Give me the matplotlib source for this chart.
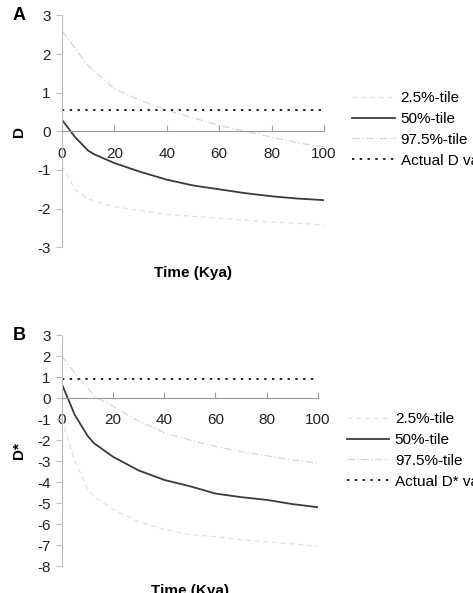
import matplotlib
matplotlib.use('Agg')
import matplotlib.pyplot as plt

plt.rcParams['font.family'] = ['Liberation Sans', 'DejaVu Sans']
plt.rcParams['axes.unicode_minus'] = False

# time points (Kya)
time = [0, 5, 10, 12.5, 20, 30, 40, 50, 60, 70, 80, 90, 100]

# panel A: Tajima's D
d_lo = [-0.9, -1.5, -1.75, -1.8, -1.95, -2.05, -2.15, -2.2, -2.25, -2.3, -2.35, -2.38, -2.42]
d_med = [0.3, -0.15, -0.5, -0.6, -0.82, -1.05, -1.25, -1.4, -1.5, -1.6, -1.68, -1.74, -1.78]
d_hi = [2.6, 2.15, 1.7, 1.55, 1.1, 0.8, 0.55, 0.35, 0.15, 0.0, -0.15, -0.3, -0.4]
d_actual = 0.55

# panel B: Fu and Li's D*
ds_lo = [-1.0, -3.0, -4.3, -4.7, -5.3, -5.9, -6.25, -6.5, -6.6, -6.75, -6.85, -6.95, -7.05]
ds_med = [0.65, -0.8, -1.8, -2.15, -2.8, -3.45, -3.9, -4.2, -4.55, -4.72, -4.85, -5.05, -5.2]
ds_hi = [2.0, 1.2, 0.5, 0.1, -0.4, -1.1, -1.65, -2.0, -2.3, -2.55, -2.75, -2.95, -3.1]
ds_actual = 0.9

series_names = ['2.5%-tile', '50%-tile', '97.5%-tile']


def draw_panel(ax, lo, med, hi, actual, ylab, yticks, actual_name, letter, leg_anchor):
    ax.plot(time, lo, color='#e0e0e0', lw=0.9, ls=(0, (4, 3)), label=series_names[0])
    ax.plot(time, med, color='#3a3a3a', lw=1.3, label=series_names[1])
    ax.plot(time, hi, color='#d6d6d6', lw=0.9, ls=(0, (6, 2, 1, 2)), label=series_names[2])
    ax.plot([time[0], time[-1]], [actual, actual], color='#222222', lw=1.4,
            ls=(0, (1.2, 2.8)), label=actual_name)

    ax.set_xlim(0, 100)
    ax.set_ylim(yticks[0], yticks[-1])
    ax.set_yticks(yticks)
    ax.set_xticks([0, 20, 40, 60, 80, 100])

    for s in ['top', 'right']:
        ax.spines[s].set_visible(False)
    ax.spines['bottom'].set_position(('data', 0))
    ax.spines['bottom'].set_color('#9a9a9a')
    ax.spines['left'].set_color('#bdbdbd')
    ax.spines['left'].set_linestyle((0, (3, 1)))

    ax.tick_params(axis='x', direction='in', length=4, color='#9a9a9a', pad=11,
                   labelsize=11, labelcolor='#222222')
    ax.tick_params(axis='y', direction='out', length=4, color='#bdbdbd', pad=4,
                   labelsize=11, labelcolor='#222222')

    w = ax.get_position().width * 473
    ax.text(-43 / w, 0.5, ylab, transform=ax.transAxes, rotation=90,
            ha='center', va='center', fontsize=11, fontweight='bold')
    ax.text(0.5, -0.11, 'Time (Kya)', transform=ax.transAxes,
            ha='center', va='center', fontsize=11, fontweight='bold')
    ax.text(-49 / w, 1.0, letter, transform=ax.transAxes,
            ha='left', va='center', fontsize=13, fontweight='bold')

    fig = ax.figure
    ax.legend(loc='upper left', bbox_to_anchor=leg_anchor, bbox_transform=fig.transFigure,
              frameon=False, fontsize=11, handlelength=2.8, handletextpad=0.35,
              labelspacing=0.45, borderpad=0, borderaxespad=0)


fig = plt.figure(figsize=(4.73, 5.93), dpi=100)
ax_a = fig.add_axes([0.131, 0.583, 0.554, 0.391])
ax_b = fig.add_axes([0.131, 0.0455, 0.541, 0.3895])

draw_panel(ax_a, d_lo, d_med, d_hi, d_actual, 'D', [-3, -2, -1, 0, 1, 2, 3],
           'Actual D value', 'A', (0.745, 1 - 91 / 593))
draw_panel(ax_b, ds_lo, ds_med, ds_hi, ds_actual, 'D*',
           [-8, -7, -6, -5, -4, -3, -2, -1, 0, 1, 2, 3],
           'Actual D* value', 'B', (0.733, 1 - 412 / 593))

fig.savefig('out.png', dpi=100)
